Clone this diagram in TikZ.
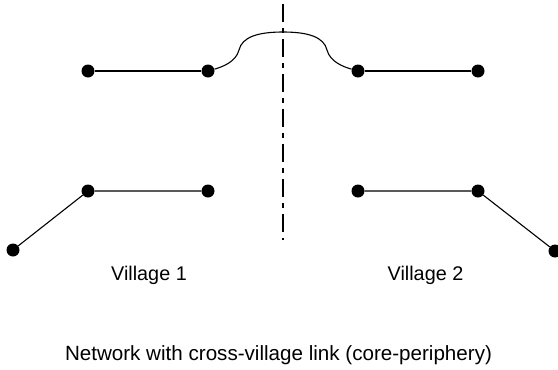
\documentclass[tikz,border=0pt]{standalone}
\usepackage{fontspec}
\setmainfont{Liberation Sans}
\begin{document}
\begin{tikzpicture}[x=1pt,y=-1pt,
  vertex/.style={circle,fill=black,inner sep=0pt,minimum size=13pt},
  link/.style={line width=1.1pt,black},
  axis/.style={line width=1.3pt,black,dash pattern=on 18pt off 6pt on 5pt off 6pt,dash phase=31pt},
  label/.style={font=\fontsize{19.8}{23}\selectfont,anchor=base,inner sep=0pt},
  caption/.style={font=\fontsize{20.6}{24}\selectfont,anchor=base,inner sep=0pt}]
\useasboundingbox (0,0) rectangle (558,370);

% dividing axis between the two villages
\coordinate (axtop) at (283,0);
\coordinate (axbot) at (283,240);
\draw[axis] (axtop) -- (axbot);

% village 1
\node[vertex] (a1) at (88,71) {};
\node[vertex] (a2) at (208,71) {};
\node[vertex] (a3) at (88,191) {};
\node[vertex] (a4) at (208,191) {};
\node[vertex] (a5) at (13,250) {};

% village 2
\node[vertex] (b1) at (358,71) {};
\node[vertex] (b2) at (478,71) {};
\node[vertex] (b3) at (358,191) {};
\node[vertex] (b4) at (478,191) {};
\node[vertex] (b5) at (555,251) {};

\draw[link] (a1) -- (a2);
\draw[link] (a5) -- (a3) -- (a4);
\draw[link] (b1) -- (b2);
\draw[link] (b3) -- (b4) -- (b5);

% cross-village link
\draw[link] (a2) .. controls (222,67) and (236,62) .. (239,50)
  .. controls (242,37) and (258,32) .. (283,32)
  .. controls (308,32) and (324,37) .. (327,50)
  .. controls (330,62) and (344,67) .. (b1);

\node[label] (v1) at (149,280) {Village 1};
\node[label] (v2) at (425.5,280) {Village 2};
\node[caption] (cap) at (278.5,360) {Network with cross-village link (core-periphery)};
\end{tikzpicture}
\end{document}
